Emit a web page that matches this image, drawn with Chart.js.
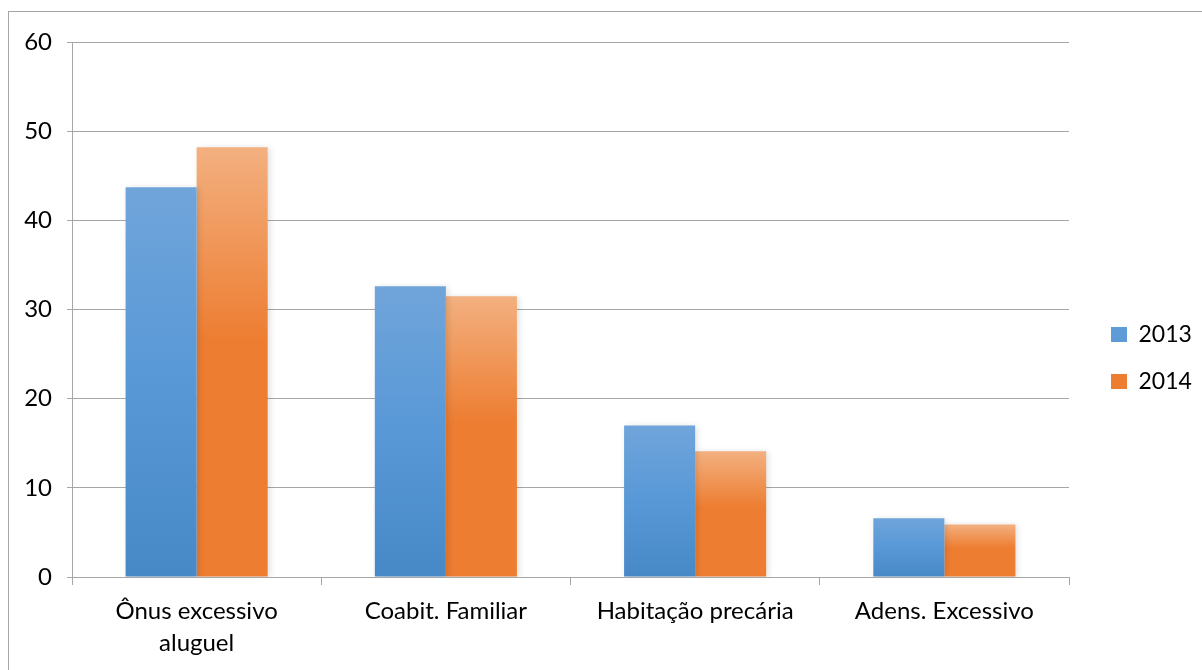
<!DOCTYPE html>
<html>
<head>
<meta charset="utf-8">
<script src="https://cdn.jsdelivr.net/npm/chart.js@4.4.1/dist/chart.umd.min.js"></script>
<style>
    html, body { margin: 0; padding: 0; background: #fff; overflow: hidden; }
    #frame { position: absolute; left: 8px; top: 11px; width: 1300px; height: 800px;
             border-left: 1px solid #a6a6a6; border-top: 1px solid #a6a6a6; }
    #wrap { position: absolute; left: 0; top: 0; width: 1202px; height: 670px; }
</style>
</head>
<body>
<div id="frame"></div>
<div id="wrap"><canvas id="chart" width="1202" height="670"></canvas></div>
<script>
var categories = [["Ônus excessivo", "aluguel"], "Coabit. Familiar", "Habitação precária", "Adens. Excessivo"];
var seriesNames = ["2013", "2014"];
var values2013 = [43.7, 32.6, 17.0, 6.6];
var values2014 = [48.2, 31.5, 14.1, 5.9];
var yMin = 0, yMax = 60, yStep = 10;

var FONT = "Lato";
var GRID = "#a6a6a6";

/* gradient per bar, from the bar top down to the zero line */
function barGradient(stops, fallback) {
    return function (ctx) {
        var chart = ctx.chart;
        if (ctx.type !== "data" || !chart.scales || !chart.scales.y) return fallback;
        var y = chart.scales.y;
        var top = y.getPixelForValue(ctx.raw);
        var base = y.getPixelForValue(0);
        if (!isFinite(top) || !isFinite(base) || top === base) return fallback;
        var g = chart.ctx.createLinearGradient(0, top, 0, base);
        stops.forEach(function (s) { g.addColorStop(s[0], s[1]); });
        return g;
    };
}

var blueStops = [[0, "#70a5da"], [0.5, "#5898d7"], [1, "#4788c7"]];
var orangeStops = [[0, "#f3b080"], [0.45, "#ed7d31"], [1, "#ed7d31"]];

/* soft shadow under the bars */
var barShadow = {
    id: "barShadow",
    beforeDatasetsDraw: function (chart) {
        var c = chart.ctx;
        c.save();
        c.shadowColor = "rgba(0,0,0,0.12)";
        c.shadowBlur = 6;
        c.shadowOffsetX = 2;
        c.shadowOffsetY = 1;
    },
    afterDatasetsDraw: function (chart) { chart.ctx.restore(); }
};

/* fixed legend width and offset, like the original */
var legendPlace = {
    id: "legendPlace",
    afterInit: function (chart) {
        var lg = chart.legend;
        if (!lg) return;
        var fit = lg.fit, draw = lg.draw;
        lg.fit = function () { fit.call(this); this.width = 133; };
        lg.draw = function () {
            var c = this.ctx;
            c.save();
            c.translate(18, 2);
            draw.call(this);
            c.restore();
        };
    }
};

new Chart(document.getElementById("chart"), {
    type: "bar",
    data: {
        labels: categories,
        datasets: [{
            label: seriesNames[0],
            data: values2013,
            backgroundColor: barGradient(blueStops, "#5b9bd5"),
            borderWidth: 0
        }, {
            label: seriesNames[1],
            data: values2014,
            backgroundColor: barGradient(orangeStops, "#ed7d31"),
            borderWidth: 0
        }]
    },
    options: {
        responsive: false,
        animation: false,
        devicePixelRatio: 1,
        layout: { padding: { top: 42, left: 0, right: 0, bottom: 0 } },
        datasets: {
            bar: { categoryPercentage: 0.57, barPercentage: 1 }
        },
        plugins: {
            tooltip: { enabled: false },
            legend: {
                position: "right",
                labels: {
                    boxWidth: 16,
                    boxHeight: 15,
                    padding: 24,
                    color: "#000",
                    font: { family: FONT, size: 23 }
                }
            }
        },
        scales: {
            x: {
                offset: true,
                grid: {
                    display: true,
                    drawOnChartArea: false,
                    drawTicks: true,
                    tickLength: 8,
                    color: GRID,
                    offset: true
                },
                border: { color: GRID },
                ticks: {
                    color: "#000",
                    padding: 10,
                    maxRotation: 0,
                    autoSkip: false,
                    font: { family: FONT, size: 24, lineHeight: 1.333 }
                },
                afterFit: function (s) { s.height = 93; }
            },
            y: {
                min: yMin,
                max: yMax,
                grid: { color: GRID, tickLength: 5 },
                border: { color: GRID },
                ticks: {
                    stepSize: yStep,
                    color: "#000",
                    padding: 15,
                    font: { family: FONT, size: 24 }
                },
                afterFit: function (s) { s.width = 72; }
            }
        }
    },
    plugins: [barShadow, legendPlace]
});
</script>
</body>
</html>
